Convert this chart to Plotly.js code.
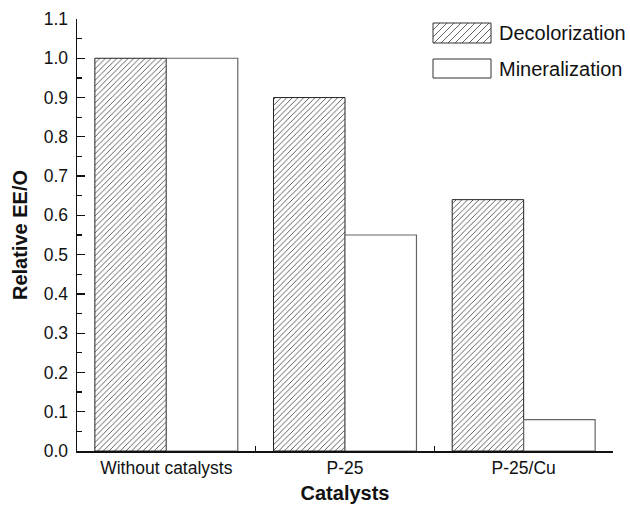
<!DOCTYPE html>
<html>
<head>
<meta charset="utf-8">
<script src="https://cdn.plot.ly/plotly-3.0.1.min.js"></script>
<style>
  html, body { margin: 0; padding: 0; background: #fff; }
  #chart { width: 630px; height: 505px; }
</style>
</head>
<body>
<div id="chart"></div>
<script>
// Relative electrical energy per order for each catalyst setup
const catalysts = ['Without catalysts', 'P-25', 'P-25/Cu'];
const seriesNames = ['Decolorization', 'Mineralization'];
const decolorization = [1.0, 0.90, 0.64];
const mineralization = [1.0, 0.55, 0.08];

const W = 630, H = 505;
const M = { l: 77, r: 17, t: 19, b: 54 };
const pw = W - M.l - M.r, ph = H - M.t - M.b;
const px = x => (x - M.l) / pw;       // pixel -> paper x
const py = y => (H - M.b - y) / ph;   // pixel -> paper y

const FONT = 'Liberation Sans, Arial, Helvetica, sans-serif';

const traces = [
  {
    type: 'bar', name: seriesNames[0], x: catalysts, y: decolorization,
    marker: {
      color: '#fff',
      line: { color: '#222', width: 1 },
      pattern: { shape: '/', fgcolor: '#222', bgcolor: '#fff', size: 4, solidity: 0.18 }
    },
    showlegend: false
  },
  {
    type: 'bar', name: seriesNames[1], x: catalysts, y: mineralization,
    marker: { color: '#fff', line: { color: '#666', width: 1.2 } },
    showlegend: false
  }
];

// Hand-drawn key: boxes with hatching plus labels
const shapes = [];
const annotations = [];
const key = [
  { top: 23, bottom: 43, hatch: true },
  { top: 59, bottom: 78, hatch: false }
];
const kx0 = 433, kx1 = 491;
key.forEach((k, i) => {
  if (k.hatch) {
    // diagonal hatch lines clipped to the box
    const step = 7, h = k.bottom - k.top;
    let d = '';
    for (let s = kx0 - h; s < kx1; s += step) {
      // line from (s, bottom) to (s + h, top), clipped to [kx0, kx1]
      let xa = s, ya = k.bottom, xb = s + h, yb = k.top;
      if (xa < kx0) { ya = k.bottom - (kx0 - xa); xa = kx0; }
      if (xb > kx1) { yb = k.top + (xb - kx1); xb = kx1; }
      if (xb <= xa) continue;
      d += `M${px(xa)},${py(ya)}L${px(xb)},${py(yb)}`;
    }
    shapes.push({ type: 'path', xref: 'paper', yref: 'paper', path: d,
      line: { color: '#222', width: 0.7 } });
  }
  shapes.push({ type: 'rect', xref: 'paper', yref: 'paper',
    x0: px(kx0), x1: px(kx1), y0: py(k.bottom), y1: py(k.top),
    line: { color: '#333', width: 1 }, fillcolor: 'rgba(0,0,0,0)' });
  annotations.push({ xref: 'paper', yref: 'paper', x: px(497), y: py((k.top + k.bottom) / 2),
    xanchor: 'left', yanchor: 'middle', showarrow: false, text: seriesNames[i],
    font: { family: FONT, size: 20, color: '#111' } });
});

const layout = {
  width: W, height: H,
  margin: M,
  paper_bgcolor: '#fff', plot_bgcolor: '#fff',
  barmode: 'group', bargap: 0.2, bargroupgap: 0,
  font: { family: FONT, color: '#111' },
  xaxis: {
    range: [-0.5, 2.5],
    tickson: 'boundaries', ticks: 'inside', ticklen: 5, tickwidth: 1.2, tickcolor: '#111',
    showline: true, linecolor: '#111', linewidth: 1.5,
    showgrid: false, zeroline: false,
    tickfont: { family: FONT, size: 17.5, color: '#111' },
    title: { text: '<b>Catalysts</b>', font: { family: FONT, size: 20, color: '#111' }, standoff: 9 }
  },
  yaxis: {
    range: [0, 1.1], dtick: 0.1, tick0: 0, tickformat: '.1f',
    ticks: 'inside', ticklen: 8, tickwidth: 1.2, tickcolor: '#111',
    minor: { dtick: 0.05, ticks: 'inside', ticklen: 5, tickwidth: 1.2, tickcolor: '#111' },
    showline: true, linecolor: '#111', linewidth: 1.5,
    showgrid: false, zeroline: false,
    tickfont: { family: FONT, size: 17.5, color: '#111' },
    ticklabelstandoff: 4,
    title: { text: '<b>Relative EE/O</b>', font: { family: FONT, size: 20, color: '#111' }, standoff: 10 }
  },
  shapes: shapes,
  annotations: annotations
};

Plotly.newPlot('chart', traces, layout, { displayModeBar: false, staticPlot: true });
</script>
</body>
</html>
